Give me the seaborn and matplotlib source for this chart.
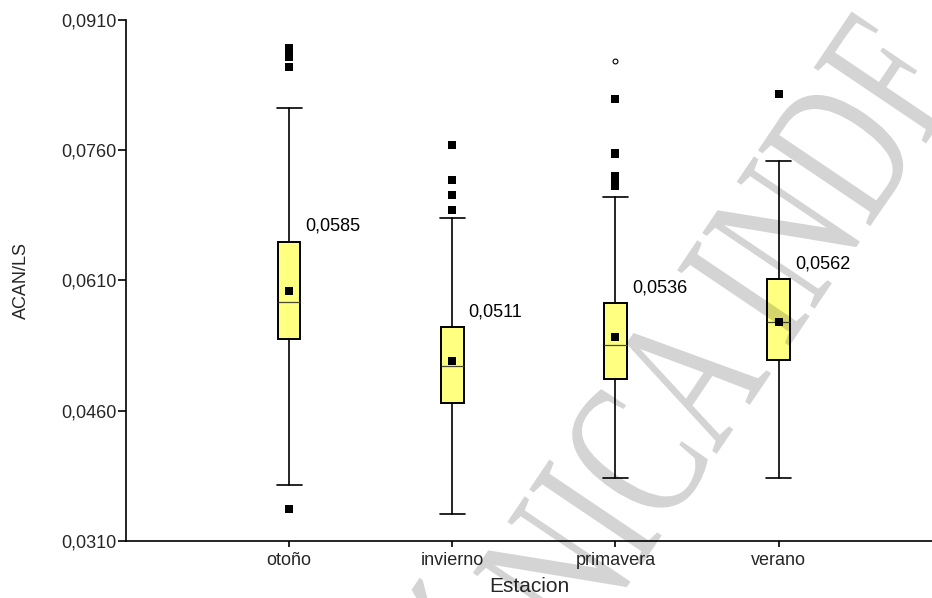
import numpy as np
import pandas as pd
import seaborn as sns
import matplotlib
matplotlib.use("Agg")
import matplotlib.pyplot as plt
from matplotlib.textpath import TextPath
from matplotlib.patches import PathPatch
from matplotlib.font_manager import FontProperties
from matplotlib.transforms import Affine2D

# ---------------- data ----------------
estaciones = ["otoño", "invierno", "primavera", "verano"]
q1 = [0.05423, 0.04686, 0.04966, 0.05184]
medianas = [0.0585, 0.0511, 0.0536, 0.0562]
q3 = [0.06547, 0.05561, 0.05837, 0.06114]
bigote_inf = [0.03748, 0.03411, 0.03829, 0.03829]
bigote_sup = [0.08083, 0.06823, 0.07062, 0.07476]
medias = [0.05979, 0.05176, 0.05453, 0.05625]
atipicos_otono = [0.08778, 0.08737, 0.08708, 0.08674, 0.08564, 0.03468]
atipicos_invierno = [0.07657, 0.07257, 0.07081, 0.06908]
atipicos_primavera = [0.0819, 0.07574, 0.07557, 0.07298, 0.07223, 0.07183]
atipicos_verano = [0.08248]
extremos_primavera = [0.08628]
etiquetas_mediana = ["0,0585", "0,0511", "0,0536", "0,0562"]
yticks = [0.0310, 0.0460, 0.0610, 0.0760, 0.0910]
marca_agua = "ÓNICA INDE"

# ---------------- style ----------------
sns.set_theme(style="ticks")
plt.rcParams["font.family"] = ["Liberation Sans", "DejaVu Sans"]

W, H = 932, 598
fig = plt.figure(figsize=(W / 100, H / 100), dpi=100)
ax = fig.add_axes([126 / W, 1 - 541 / H, (W - 126) / W, (541 - 20) / H])

pos = [1, 2, 3, 4]
stats = []
for i, name in enumerate(estaciones):
    stats.append(dict(label=name, q1=q1[i], med=medianas[i], q3=q3[i],
                      whislo=bigote_inf[i], whishi=bigote_sup[i],
                      mean=medias[i], fliers=[]))

ax.bxp(stats, positions=pos, widths=0.138, capwidths=0.155,
       showmeans=False, showfliers=False, patch_artist=True,
       boxprops=dict(facecolor="#ffff80", edgecolor="black", linewidth=1.4),
       whiskerprops=dict(color="black", linewidth=1.2),
       capprops=dict(color="black", linewidth=1.2),
       medianprops=dict(color="#4a4a30", linewidth=0.9), manage_ticks=False)

# means
df_mean = pd.DataFrame({"x": pos, "y": medias})
sns.scatterplot(data=df_mean, x="x", y="y", marker="s", color="black",
                s=28, linewidth=0, ax=ax, zorder=5)

# outliers
out_x, out_y = [], []
for p, vals in zip(pos, [atipicos_otono, atipicos_invierno,
                         atipicos_primavera, atipicos_verano]):
    out_x += [p] * len(vals)
    out_y += vals
df_out = pd.DataFrame({"x": out_x, "y": out_y})
sns.scatterplot(data=df_out, x="x", y="y", marker="s", color="black",
                s=28, linewidth=0, ax=ax, zorder=5)

# extreme values
df_ext = pd.DataFrame({"x": [3] * len(extremos_primavera), "y": extremos_primavera})
sns.scatterplot(data=df_ext, x="x", y="y", marker="o", facecolor="white",
                edgecolor="black", s=12, linewidth=0.8, ax=ax, zorder=5)

# median labels
for p, top, lab in zip(pos, q3, etiquetas_mediana):
    ax.annotate(lab, xy=(p + 0.1, top), xytext=(0, 5), textcoords="offset points",
                ha="left", va="bottom", fontsize=13, color="black")

ax.set_xlim(0, 4.94)
ax.set_ylim(0.031, 0.091)
ax.set_yticks(yticks)
ax.set_yticklabels([f"{v:.4f}".replace(".", ",") for v in yticks])
ax.set_xticks(pos)
ax.set_xticklabels(estaciones)
ax.tick_params(axis="y", length=6, width=1.2, pad=1, labelsize=13, color="black")
ax.tick_params(axis="x", length=4, width=1.2, pad=4, labelsize=13, color="black")
ax.set_xlabel("Estacion", fontsize=15, labelpad=6)
ax.set_ylabel("ACAN/LS", fontsize=13, labelpad=22)
for s in ["left", "bottom"]:
    ax.spines[s].set_color("black")
    ax.spines[s].set_linewidth(1.2)
sns.despine(ax=ax)

# watermark (tall serif letters, diagonal, translucent)
tp = TextPath((0, 0), marca_agua, size=1,
              prop=FontProperties(family="Liberation Serif"))
bb = tp.get_extents()
cx = (bb.x0 + bb.x1) / 2
tr = (Affine2D().translate(-cx, -0.331).scale(138, 138 * 1.5)
      .rotate_deg(56).translate(692, H - 368))
fig.add_artist(PathPatch(tp, transform=tr, facecolor="black", edgecolor="none",
                         alpha=0.17, zorder=10))

fig.savefig("out.png", dpi=100)
